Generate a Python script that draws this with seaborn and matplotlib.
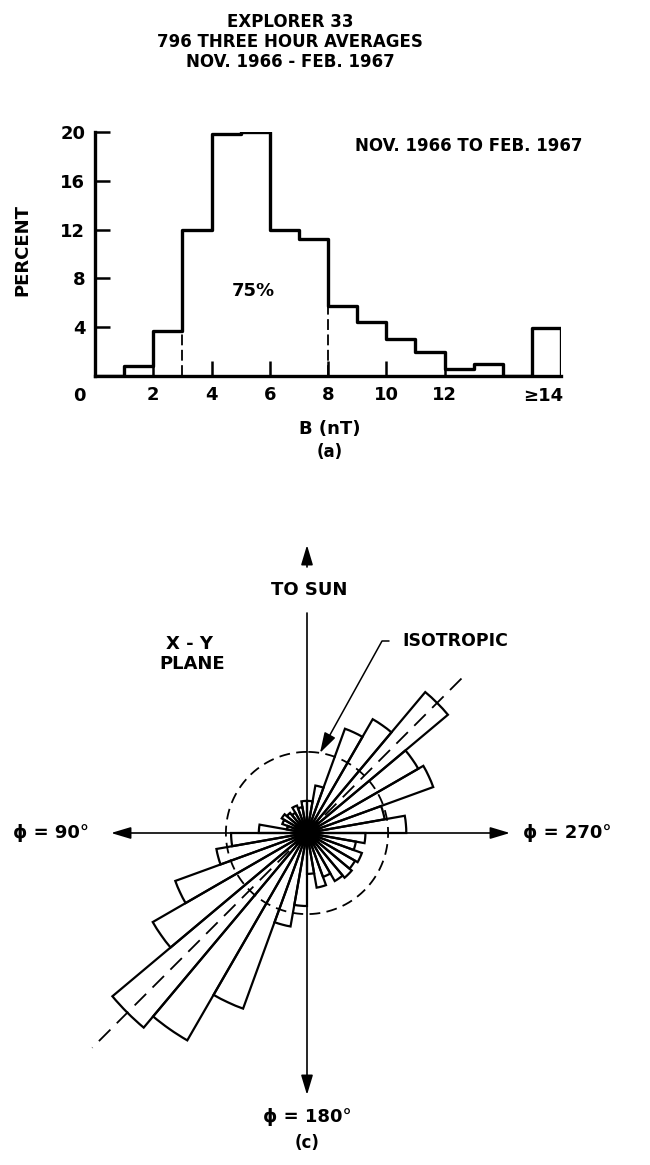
import numpy as np
import matplotlib
matplotlib.use("Agg")
import matplotlib.pyplot as plt
import seaborn as sns

# ---- (a) field magnitude distribution, Explorer 33 three-hour averages ----
b_edges = list(range(17))  # nT, 1 nT bins; the last bin collects every B >= 14
b_percent = [0.0, 0.8, 3.7, 12.0, 19.8, 20.0, 12.0, 11.2,
             5.7, 4.4, 3.0, 2.0, 0.6, 1.0, 0.0, 3.9]
b_ticks = [2, 4, 6, 8, 10, 12]
b_tick_labels = ["2", "4", "6", "8", "10", "12"]
percent_ticks = [4, 8, 12, 16, 20]
band_limits = [3, 8]          # interval that holds 75 % of the averages
band_label = "75%"
last_bin_label = "≥14"

title_lines = ["EXPLORER 33", "796 THREE HOUR AVERAGES", "NOV. 1966 - FEB. 1967"]
period_label = "NOV. 1966 TO FEB. 1967"

# ---- (c) azimuth distribution in the X-Y plane, 10 degree bins ----
phi_bin_start = list(range(0, 360, 10))
phi_percent = [1.1, 0.9, 1.0, 0.8, 0.9, 1.0, 0.9, 0.7, 1.65,
               2.6, 3.15, 4.8, 6.1, 8.7, 8.2, 6.4, 3.25, 2.5,
               1.4, 1.9, 1.6, 1.9, 2.0, 1.9, 2.0, 1.7, 2.0,
               3.4, 2.7, 4.6, 4.4, 6.3, 4.5, 3.8, 1.65, 1.1]
isotropic_percent = 100 / 36
spiral_phi = [315, 135]

W, H = 650, 1165
sns.set_theme(style="ticks")
plt.rcParams["font.family"] = ["DejaVu Sans"]
plt.rcParams["font.weight"] = "bold"
plt.rcParams["text.color"] = "black"

fig = plt.figure(figsize=(W / 100, H / 100), dpi=100)
fig.patch.set_facecolor("white")


def fx(x):
    return x / W


def fy(y):
    return 1 - y / H


def label(x, y, s, size=13, **kw):
    fig.text(fx(x), fy(y), s, fontsize=size, ha=kw.pop("ha", "center"),
             va=kw.pop("va", "center"), color="black", fontweight="bold", **kw)


# ------------------------------------------------------------------ panel (a)
ax = fig.add_axes([fx(95), fy(376), 466 / W, (376 - 132) / H])
ax.set_facecolor("white")
centers = np.array(b_edges[:-1]) + 0.5
sns.histplot(x=centers, weights=b_percent, bins=b_edges, element="step",
             fill=False, color="black", linewidth=2.4, ax=ax)
# closing edge of the last bin
ax.vlines(b_edges[-1], 0, b_percent[-1], colors="black", lw=2.4)
# dashed limits of the 75 % band
for edge in band_limits:
    i = b_edges.index(edge)
    ax.vlines(edge, 0, min(b_percent[i - 1], b_percent[i]), colors="black",
              lw=1.3, linestyles=(0, (6, 2.5)))

ax.set_xlim(b_edges[0], b_edges[-1])
ax.set_ylim(0, 20)
ax.set_xlabel("")
ax.set_ylabel("")
for side in ("top", "right"):
    ax.spines[side].set_visible(False)
for side in ("left", "bottom"):
    ax.spines[side].set_linewidth(2.4)
    ax.spines[side].set_color("black")
ax.set_xticks(b_ticks, b_tick_labels)
ax.set_yticks(percent_ticks, [str(v) for v in percent_ticks])
ax.tick_params(direction="in", length=11, width=1.8, labelsize=13, pad=7,
               colors="black")
for t in ax.get_xticklabels() + ax.get_yticklabels():
    t.set_fontweight("bold")
xt = ax.get_xaxis_transform()
ax.text(-0.55, -0.082, "0", transform=xt, ha="center", va="center",
        fontsize=13, fontweight="bold")
ax.text((b_edges[-2] + b_edges[-1]) / 2 - 0.1, -0.082, last_bin_label,
        transform=xt, ha="center", va="center", fontsize=13, fontweight="bold")
ax.text(np.mean(band_limits) - 0.05, 7.0, band_label, ha="center", va="center",
        fontsize=13, fontweight="bold")

label(22, 250, "PERCENT", size=13, rotation=90)
label(330, 429, "B (nT)", size=13)
label(330, 452, "(a)", size=12)
for k, line in enumerate(title_lines):
    label(290, 22 + 20 * k, line, size=12)
label(355, 146, period_label, size=12, ha="left")

# ------------------------------------------------------------------ panel (c)
px_per_percent = 29.2
rmax = 10.5
R = rmax * px_per_percent
cx, cy = 307, 833
ax2 = fig.add_axes([fx(cx - R), fy(cy + R), 2 * R / W, 2 * R / H],
                   projection="polar")
ax2.set_theta_zero_location("N")
ax2.set_theta_direction(1)
ax2.set_ylim(0, rmax)
ax2.set_axis_off()

theta = np.deg2rad(np.array(phi_bin_start) + 5)
ax2.bar(theta, phi_percent, width=np.deg2rad(10), bottom=0, fill=False,
        edgecolor="black", linewidth=1.6)

# isotropic reference circle
circ = np.linspace(0, 2 * np.pi, 400)
ax2.plot(circ, np.full_like(circ, isotropic_percent), color="black", lw=1.3,
         ls=(0, (6, 3.5)))

# mean (spiral) direction
for phi, r in zip(spiral_phi, [7.65, 10.4]):
    ax2.plot(np.deg2rad([phi, phi]), [0, r], color="black", lw=1.3,
             ls=(0, (9, 5)), clip_on=False)


def arrow(phi, r_tail, r_tip):
    ax2.annotate("", xy=(np.deg2rad(phi), r_tip),
                 xytext=(np.deg2rad(phi), r_tail),
                 arrowprops=dict(arrowstyle="-|>,head_length=1.0,head_width=0.3",
                                 color="black", lw=1.2, shrinkA=0, shrinkB=0),
                 annotation_clip=False)


ax2.plot(np.deg2rad([0, 0]), [0, 7.53], color="black", lw=1.2, clip_on=False)
arrow(0, 9.11, 9.86)
arrow(90, 0, 6.71)
arrow(270, 0, 6.95)
arrow(180, 0, 8.97)

ax2.annotate("ISOTROPIC", xy=(np.deg2rad(350.8), isotropic_percent),
             xytext=(fx(402), fy(641)), textcoords="figure fraction",
             ha="left", va="center", fontsize=12.5, fontweight="bold",
             arrowprops=dict(arrowstyle="-|>,head_length=1.0,head_width=0.3",
                             color="black", lw=1.1, relpos=(0, 0.5),
                             shrinkA=7, shrinkB=0,
                             connectionstyle="angle,angleA=0,angleB=61,rad=0"),
             annotation_clip=False)

label(309, 590, "TO SUN", size=13)
label(190, 644, "X - Y", size=13)
label(192, 664, "PLANE", size=13)
label(89, 833, "ϕ = 90°", size=13, ha="right")
label(523, 833, "ϕ = 270°", size=13, ha="left")
label(307, 1117, "ϕ = 180°", size=13)
label(307, 1143, "(c)", size=12)

fig.savefig("out.png", dpi=100, facecolor="white")
